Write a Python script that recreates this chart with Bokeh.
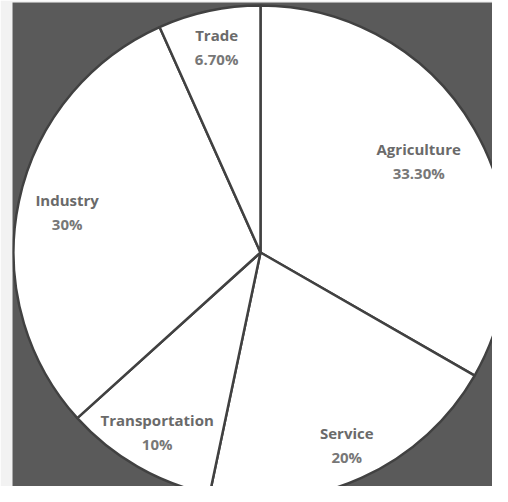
import math
from bokeh.plotting import figure
from bokeh.models import Range1d, ColumnDataSource
from bokeh.core.properties import value
from bokeh.embed import file_html
from bokeh.resources import INLINE

# ---- data ----
categories = ["Agriculture", "Service", "Transportation", "Industry", "Trade"]
shares = [33.3, 20, 10, 30, 6.7]
pct_labels = ["33.30%", "20%", "10%", "30%", "6.70%"]

# ---- layout constants ----
CX, CY, R = 260, 250, 247
label_r = [0.74, 0.855, 0.84, 0.80, 0.85]

total = sum(shares)
starts, ends, lx, ly = [], [], [], []
cum = 0.0
for s, lr in zip(shares, label_r):
    a0 = math.pi / 2 - 2 * math.pi * cum / total
    a1 = math.pi / 2 - 2 * math.pi * (cum + s) / total
    starts.append(a1)
    ends.append(a0)
    mid = (a0 + a1) / 2
    lx.append(CX + lr * R * math.cos(mid))
    ly.append(CY + lr * R * math.sin(mid))
    cum += s

src = ColumnDataSource(dict(cat=categories, pct=pct_labels, start=starts, end=ends, lx=lx, ly=ly))

p = figure(width=492, height=486, output_backend="svg", toolbar_location=None,
           x_range=Range1d(12, 492), y_range=Range1d(16, 500),
           min_border_left=12, min_border_right=0, min_border_top=2, min_border_bottom=0)
p.axis.visible = False
p.grid.visible = False
p.outline_line_color = None
p.background_fill_color = "#5a5a5a"
p.border_fill_color = "#f2f2f2"

p.wedge(x=CX, y=CY, radius=R, start_angle="start", end_angle="end", source=src,
        fill_color="white", line_color="#414141", line_width=2.5)

p.text(x="lx", y="ly", text="cat", source=src, text_align="center", text_baseline="middle",
       y_offset=-12, text_font=value("Open Sans"), text_font_size="15px",
       text_font_style="bold", text_color="#6a6a6a")
p.text(x="lx", y="ly", text="pct", source=src, text_align="center", text_baseline="middle",
       y_offset=12, text_font=value("Open Sans"), text_font_size="15px",
       text_font_style="bold", text_color="#777777")

open("out.html", "w").write(file_html(p, INLINE))
